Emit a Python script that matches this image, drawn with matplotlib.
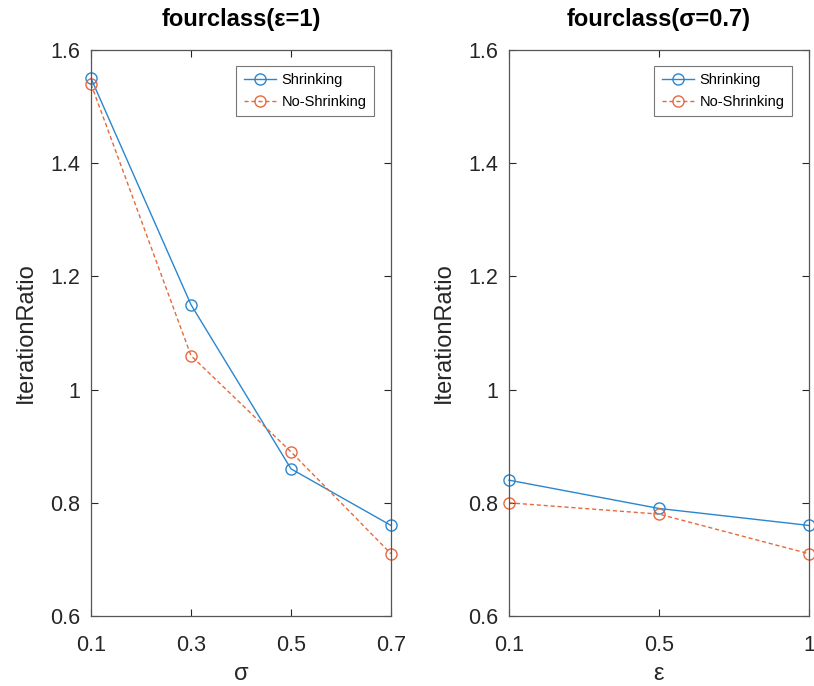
import matplotlib
matplotlib.use("Agg")
import matplotlib.pyplot as plt

plt.rcParams['font.family'] = ['Liberation Sans', 'DejaVu Sans']

sigma_labels = ['0.1', '0.3', '0.5', '0.7']
sigma_vals = [0.1, 0.3, 0.5, 0.7]
left_shrink = [1.55, 1.15, 0.86, 0.76]
left_noshrink = [1.54, 1.06, 0.89, 0.71]

eps_labels = ['0.1', '0.5', '1']
right_shrink = [0.84, 0.79, 0.76]
right_noshrink = [0.80, 0.78, 0.71]

yticks = [0.6, 0.8, 1.0, 1.2, 1.4, 1.6]
ytick_labels = ['0.6', '0.8', '1', '1.2', '1.4', '1.6']

blue = '#2a86cf'
orange = '#e56a3e'
axc = '#262626'

fig = plt.figure(figsize=(8.14, 6.86), dpi=100)
ax1 = fig.add_axes([91/814, 70/686, 300/814, 566/686])
ax2 = fig.add_axes([509/814, 70/686, 300/814, 566/686])

def style(ax):
    ax.set_ylim(0.6, 1.6)
    ax.set_yticks(yticks)
    ax.set_yticklabels(ytick_labels)
    ax.tick_params(direction='in', top=True, right=True, labelsize=15.5,
                   colors=axc, length=5, width=0.8)
    ax.tick_params(axis='x', pad=14)
    ax.tick_params(axis='y', pad=8)
    for s in ax.spines.values():
        s.set_color('#555555')
        s.set_linewidth(0.9)
    ax.set_ylabel('IterationRatio', fontsize=17, color=axc, labelpad=9)
    leg = ax.legend(loc='upper right', bbox_to_anchor=(0.943, 0.972), fontsize=10.5,
                    frameon=True, fancybox=False, borderpad=0.5, handlelength=2.2,
                    labelspacing=0.55, handletextpad=0.4, borderaxespad=0)
    leg.get_frame().set_edgecolor('#555555')
    leg.get_frame().set_linewidth(0.8)

ax1.plot(sigma_vals, left_shrink, '-o', color=blue, mfc='none', ms=8, lw=1, mew=1, label='Shrinking')
ax1.plot(sigma_vals, left_noshrink, '--o', color=orange, mfc='none', ms=8, lw=1, mew=1, label='No-Shrinking', dashes=(3, 2))
ax1.set_xlim(0.1, 0.7)
ax1.set_xticks(sigma_vals)
ax1.set_xticklabels(sigma_labels)
ax1.set_xlabel('σ', fontsize=17, color=axc, labelpad=5)
ax1.set_title('fourclass(ε=1)', fontsize=17, fontweight='bold', pad=17)
style(ax1)

xe = list(range(len(eps_labels)))
ax2.plot(xe, right_shrink, '-o', color=blue, mfc='none', ms=8, lw=1, mew=1, label='Shrinking')
ax2.plot(xe, right_noshrink, '--o', color=orange, mfc='none', ms=8, lw=1, mew=1, label='No-Shrinking', dashes=(3, 2))
ax2.set_xlim(0, len(eps_labels) - 1)
ax2.set_xticks(xe)
ax2.set_xticklabels(eps_labels)
ax2.set_xlabel('ε', fontsize=17, color=axc, labelpad=5)
ax2.set_title('fourclass(σ=0.7)', fontsize=17, fontweight='bold', pad=17)
style(ax2)

for ax in (ax1, ax2):
    for l in ax.get_lines():
        l.set_clip_on(False)

fig.savefig('out.png', dpi=100, facecolor='white')
